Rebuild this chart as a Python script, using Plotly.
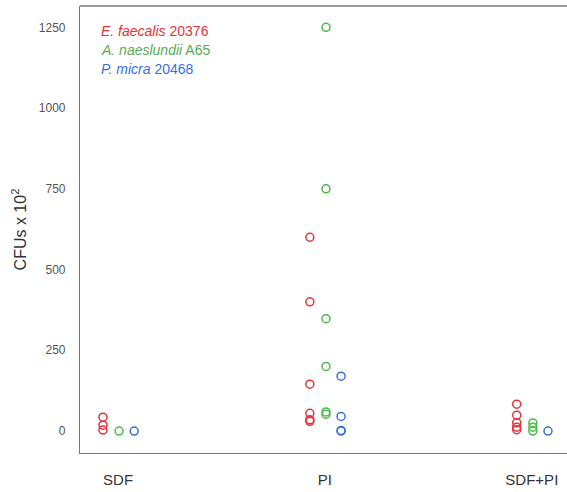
import plotly.graph_objects as go

categories = ["SDF", "PI", "SDF+PI"]
series_names = ["<i>E. faecalis</i> 20376", "<i>A. naeslundii</i> A65", "<i>P. micra</i> 20468"]
colors = ["#e5323a", "#4cbb47", "#3b6fdc"]
legend_colors = ["#e5323a", "#5aaa55", "#3b6fdc"]

# values per category (CFUs x 10^2)
ef_sdf = [43, 18, 3]
ef_pi = [600, 400, 145, 55, 35, 30]
ef_sdfpi = [83, 49, 26, 12, 4]

an_sdf = [0]
an_pi = [1250, 750, 348, 200, 59, 52]
an_sdfpi = [25, 12, 0]

pm_sdf = [0]
pm_pi = [170, 45, 2, 0]
pm_sdfpi = [0]

series = [
    [ef_sdf, ef_pi, ef_sdfpi],
    [an_sdf, an_pi, an_sdfpi],
    [pm_sdf, pm_pi, pm_sdfpi],
]
offsets = [-0.073, 0.005, 0.078]

fig = go.Figure()
for s, vals in enumerate(series):
    xs, ys = [], []
    for ci, v in enumerate(vals):
        xs += [ci + offsets[s]] * len(v)
        ys += v
    fig.add_trace(go.Scatter(
        x=xs, y=ys, mode="markers", showlegend=False,
        marker=dict(symbol="circle-open", size=8, color=colors[s],
                    line=dict(width=1.5, color=colors[s])),
    ))

for i, name in enumerate(series_names):
    fig.add_annotation(
        xref="paper", yref="paper", x=0.04, y=1 - (24.5 + 19 * i) / 447,
        xanchor="left", yanchor="middle", showarrow=False,
        text=name, font=dict(family="Liberation Sans, Arial, sans-serif", size=14, color=legend_colors[i]),
    )

# top frame edge
fig.add_shape(type="line", xref="paper", yref="paper", x0=0, x1=1, y0=1, y1=1,
              line=dict(color="#777", width=1.5))

fig.update_layout(
    width=567, height=492,
    margin=dict(l=80, r=0, t=6, b=39),
    plot_bgcolor="white", paper_bgcolor="white",
    font=dict(family="Liberation Sans, Arial, sans-serif", color="#444"),
    xaxis=dict(
        range=[-0.184, 2.17], tickvals=[0, 1, 2], ticktext=categories,
        showgrid=False, zeroline=False, showline=True, mirror=False,
        linecolor="#777", linewidth=1.2, ticks="", ticklabelstandoff=13,
        tickfont=dict(size=15, color="#333"),
    ),
    yaxis=dict(
        range=[-68, 1316], tickvals=[0, 250, 500, 750, 1000, 1250],
        showgrid=False, zeroline=False, showline=True, mirror=False,
        linecolor="#777", linewidth=1.2, ticks="", ticklabelstandoff=11,
        tickfont=dict(size=12, color="#555"),
        title=dict(text="CFUs x 10<sup>2</sup>", font=dict(size=16, color="#333"), standoff=8),
    ),
)

fig.write_html("out.html", config={"displayModeBar": False},
               post_script="document.body.style.margin='0';")
